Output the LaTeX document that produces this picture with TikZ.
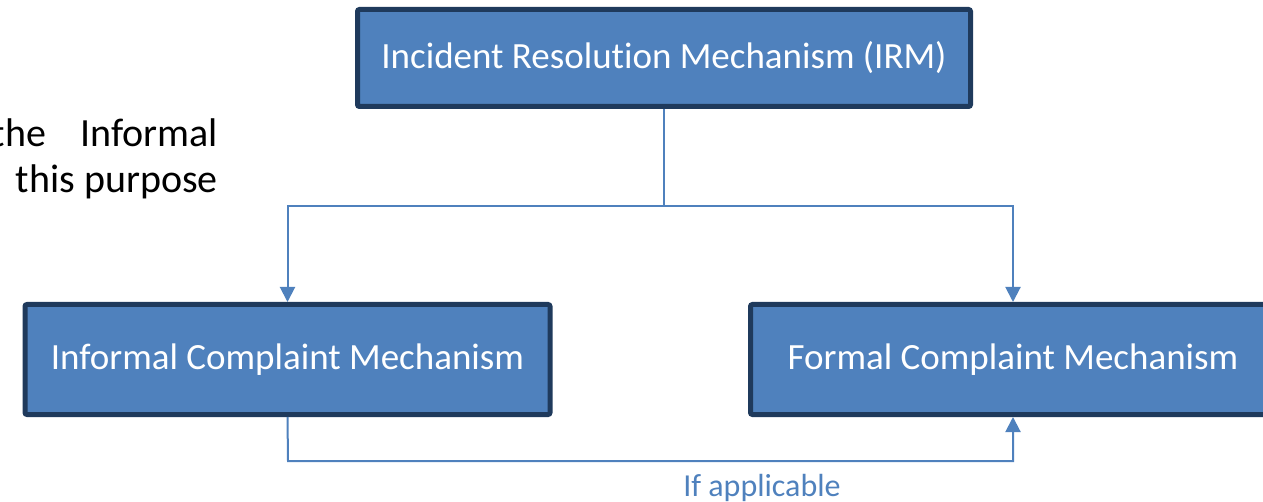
\documentclass[tikz,border=0pt]{standalone}
\usepackage{fontspec}
\setmainfont{Carlito}[Ligatures=NoCommon]
\usetikzlibrary{arrows.meta}
\definecolor{boxfill}{HTML}{4F81BD}
\definecolor{boxedge}{HTML}{1F3A5C}
\definecolor{linkblue}{HTML}{4F81BD}
\begin{document}
\begin{tikzpicture}[x=1pt,y=-1pt,
  mechbox/.style={draw=boxedge, line width=5pt, fill=boxfill, rounded corners=2pt,
    text=white, font=\fontsize{37}{44}\selectfont, inner sep=0pt},
  link/.style={draw=linkblue, line width=2pt},
  tip/.style={-{Triangle[width=15pt,length=15pt]}}]
\useasboundingbox (0,0) rectangle (1263,502);
\clip (0,0) rectangle (1263,502);

% side text, justified lines running in from the left edge
\node[anchor=base east, inner sep=0pt, font=\fontsize{40}{48}\selectfont] (txta) at (218,147) {the\hspace{0.85em}Informal};
\node[anchor=base east, inner sep=0pt, font=\fontsize{40}{48}\selectfont] (txtb) at (218,193) {this purpose};

% boxes
\node[mechbox, minimum width=613pt, minimum height=97pt] (irm) at (664,58) {Incident Resolution Mechanism (IRM)};
\node[mechbox, minimum width=525pt, minimum height=110pt] (icm) at (287.5,359.5) {Informal Complaint Mechanism};
\node[mechbox, minimum width=525pt, minimum height=110pt] (fcm) at (1013,359.5) {Formal Complaint Mechanism};

% junction points
\coordinate (split) at (664,206);
\coordinate (low) at (288,461);

% connectors
\draw[link] (irm.south) -- (split);
\draw[link, tip] (split) -| (icm.north);
\draw[link, tip] (split) -| (fcm.north);
\draw[link, tip] (icm.south) -- (low) -| (fcm.south);

\node[text=linkblue, font=\fontsize{32}{38}\selectfont, inner sep=0pt] (lbl) at (762,488) {If applicable};
\end{tikzpicture}
\end{document}
